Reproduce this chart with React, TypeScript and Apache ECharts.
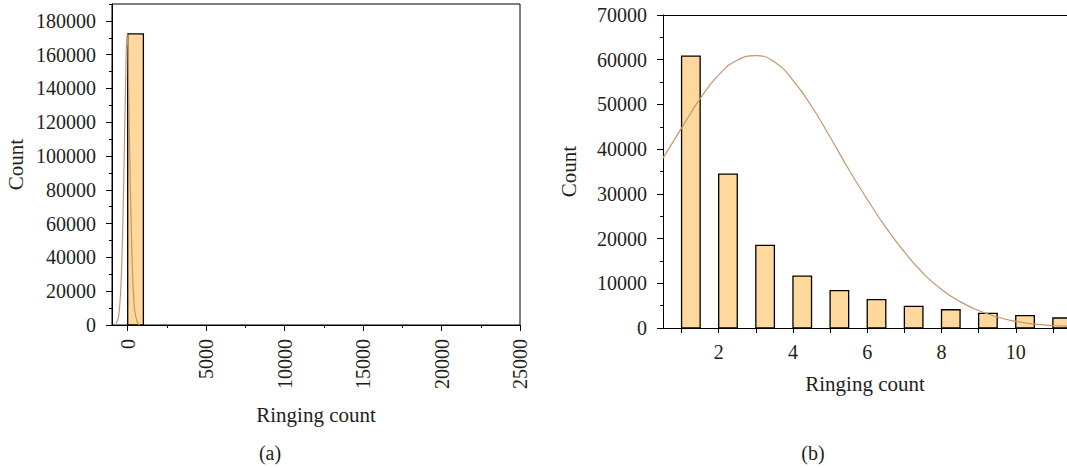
import React, { useEffect, useRef } from "react";
import * as echarts from "echarts";

// ---- Panel (a) data ----
const aBinLeft = [0];
const aBinRight = [1000];
const aCounts = [172300];
const aCurveX = [-790, -580, -425, -300, -195, -90, -25, 55, 165, 295, 440, 630, 760];
const aCurveY = [0, 4900, 24600, 64000, 113400, 162600, 172300, 142900, 83800, 34500, 8900, 1000, 0];
const aXTicks = [0, 5000, 10000, 15000, 20000, 25000];
const aXMinorTicks = [2500, 7500, 12500, 17500, 22500];
const aYTicks = [0, 20000, 40000, 60000, 80000, 100000, 120000, 140000, 160000, 180000];

// ---- Panel (b) data ----
const bBinLeft = [1, 2, 3, 4, 5, 6, 7, 8, 9, 10, 11];
const bBinRight = [1.5, 2.5, 3.5, 4.5, 5.5, 6.5, 7.5, 8.5, 9.5, 10.5, 11.5];
const bCounts = [60800, 34400, 18500, 11600, 8340, 6330, 4850, 4080, 3290, 2770, 2240];
const bCurveX = [0.5, 1.0, 1.5, 2.0, 2.5, 3.0, 3.5, 4.0, 4.5, 5.0, 5.5, 6.0, 6.5, 7.0, 7.5, 8.0, 8.5, 9.0, 9.5, 10.0, 10.5, 11.0, 11.4];
const bCurveY = [38000, 44700, 51300, 56600, 59900, 60900, 59500, 55400, 49600, 42700, 35500, 28800, 22500, 17000, 12300, 8600, 5900, 3900, 2450, 1480, 860, 560, 400];
const bXTicks = [1, 2, 3, 4, 5, 6, 7, 8, 9, 10, 11];
const bXLabels = [2, 4, 6, 8, 10];

const FONT = "Liberation Serif";
const TXT = "#231f20";
const BAR_FILL = "#ffd89e";
const CURVE = "#c4966e";

const barRender = (params: any, api: any) => {
  const x0 = api.value(0);
  const x1 = api.value(1);
  const y = api.value(2);
  const p0 = api.coord([x0, 0]);
  const p1 = api.coord([x1, y]);
  return {
    type: "rect",
    shape: { x: p0[0], y: p1[1], width: p1[0] - p0[0], height: p0[1] - p1[1] },
    style: { fill: BAR_FILL, stroke: "#000", lineWidth: 1.3 },
  };
};

const plain = (v: number) => String(v);

export default function App() {
  const ref = useRef<HTMLDivElement>(null);
  useEffect(() => {
    if (!ref.current) return;
    const chart = echarts.init(ref.current, null, { renderer: "svg" });
    const labelStyle = { color: TXT, fontFamily: FONT, fontSize: 20 };
    const nameStyle = { color: TXT, fontFamily: FONT, fontSize: 21 };
    const lineStyle = { color: "#000", width: 1 };
    chart.setOption({
      animation: false,
      textStyle: { fontFamily: FONT, color: TXT },
      grid: [
        { left: 112, top: 4, width: 408, height: 321, show: true, borderColor: "#000", borderWidth: 1, backgroundColor: "transparent" },
        { left: 663, top: 15, width: 404, height: 313 },
      ],
      xAxis: [
        {
          type: "value", gridIndex: 0, position: "bottom", min: -1000, max: 25000,
          axisLine: { show: true, onZero: false, lineStyle },
          axisTick: { show: true, inside: false, length: 6, customValues: aXTicks, lineStyle },
          axisLabel: { ...labelStyle, rotate: 90, margin: 14, customValues: aXTicks, formatter: plain },
          splitLine: { show: false },
          name: "Ringing count", nameLocation: "middle", nameGap: 79,
          nameTextStyle: { ...nameStyle },
        },
        {
          type: "value", gridIndex: 0, position: "bottom", min: -1000, max: 25000,
          axisLine: { show: false, onZero: false },
          axisTick: { show: true, length: 3, customValues: aXMinorTicks, lineStyle },
          axisLabel: { show: false },
          splitLine: { show: false },
        },
        {
          type: "value", gridIndex: 1, position: "bottom", min: 0.5, max: 11.38,
          axisLine: { show: true, onZero: false, lineStyle },
          axisTick: { show: true, length: 5, customValues: bXTicks, lineStyle },
          axisLabel: { ...labelStyle, margin: 14, customValues: bXLabels, formatter: plain },
          splitLine: { show: false },
          name: "Ringing count", nameLocation: "middle", nameGap: 45,
          nameTextStyle: { ...nameStyle },
        },
        {
          type: "value", gridIndex: 1, position: "top", min: 0.5, max: 11.38,
          axisLine: { show: true, onZero: false, lineStyle },
          axisTick: { show: false },
          axisLabel: { show: false },
          splitLine: { show: false },
        },
      ],
      yAxis: [
        {
          type: "value", gridIndex: 0, position: "left", min: 0, max: 190000,
          axisLine: { show: true, onZero: false, lineStyle },
          axisTick: { show: true, length: 6, customValues: aYTicks, lineStyle },
          axisLabel: { ...labelStyle, margin: 16, customValues: aYTicks, formatter: plain },
          splitLine: { show: false },
          name: "Count", nameLocation: "middle", nameGap: 86,
          nameTextStyle: { ...nameStyle },
        },
        {
          type: "value", gridIndex: 0, position: "left", min: 0, max: 190000, interval: 10000,
          axisLine: { show: false, onZero: false },
          axisTick: { show: true, length: 3, lineStyle },
          axisLabel: { show: false },
          splitLine: { show: false },
        },
        {
          type: "value", gridIndex: 1, position: "left", min: 0, max: 70000, interval: 10000,
          axisLine: { show: true, onZero: false, lineStyle },
          axisTick: { show: true, length: 6, lineStyle },
          axisLabel: { ...labelStyle, margin: 16, formatter: plain },
          splitLine: { show: false },
          name: "Count", nameLocation: "middle", nameGap: 84,
          nameTextStyle: { ...nameStyle },
        },
        {
          type: "value", gridIndex: 1, position: "left", min: 0, max: 70000, interval: 5000,
          axisLine: { show: false, onZero: false },
          axisTick: { show: true, length: 3, lineStyle },
          axisLabel: { show: false },
          splitLine: { show: false },
        },
      ],
      graphic: [
        { type: "text", x: 270, y: 453, style: { text: "(a)", fill: TXT, font: `20px "${FONT}"`, align: "center", verticalAlign: "middle" } },
        { type: "text", x: 813, y: 453, style: { text: "(b)", fill: TXT, font: `20px "${FONT}"`, align: "center", verticalAlign: "middle" } },
      ],
      series: [
        {
          type: "custom", xAxisIndex: 0, yAxisIndex: 0, renderItem: barRender, clip: true,
          encode: { x: [0, 1], y: 2 },
          data: aBinLeft.map((l, i) => [l, aBinRight[i], aCounts[i]]),
          z: 2,
        },
        {
          type: "line", xAxisIndex: 0, yAxisIndex: 0, smooth: 0.3, showSymbol: false,
          lineStyle: { color: CURVE, width: 1.2 },
          data: aCurveX.map((x, i) => [x, aCurveY[i]]),
          z: 3,
        },
        {
          type: "custom", xAxisIndex: 2, yAxisIndex: 2, renderItem: barRender, clip: true,
          encode: { x: [0, 1], y: 2 },
          data: bBinLeft.map((l, i) => [l, bBinRight[i], bCounts[i]]),
          z: 2,
        },
        {
          type: "line", xAxisIndex: 2, yAxisIndex: 2, smooth: 0.5, showSymbol: false,
          lineStyle: { color: CURVE, width: 1.2 },
          data: bCurveX.map((x, i) => [x, bCurveY[i]]),
          z: 3,
        },
      ],
    });
    return () => chart.dispose();
  }, []);
  return (
    <div
      ref={ref}
      style={{ position: "fixed", left: 0, top: 0, width: 1067, height: 468, background: "#fff" }}
    />
  );
}
